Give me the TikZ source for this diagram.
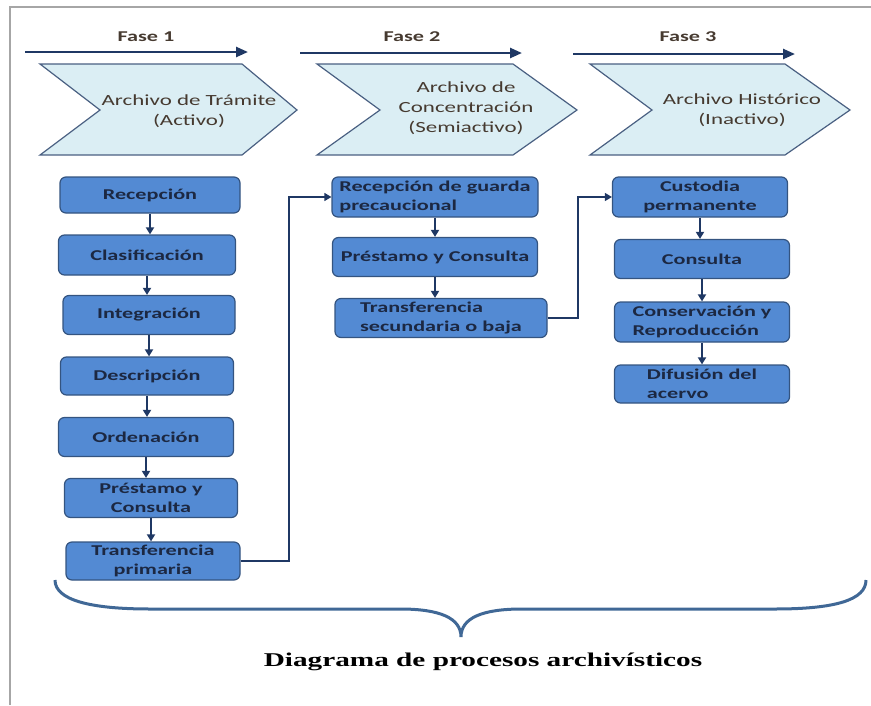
\documentclass[tikz,border=0pt]{standalone}
\usepackage{fontspec}
\setmainfont{Carlito}[FakeStretch=1.48]
\newfontfamily\capfont{Liberation Serif}[FakeStretch=1.5]
\usetikzlibrary{arrows.meta}
\definecolor{boxblue}{RGB}{83,138,211}
\definecolor{boxline}{RGB}{52,84,128}
\definecolor{chevfill}{RGB}{219,238,244}
\definecolor{chevline}{RGB}{74,96,130}
\definecolor{navy}{RGB}{31,56,100}
\definecolor{textnavy}{RGB}{28,40,66}
\definecolor{bracecol}{RGB}{64,104,150}
\definecolor{phasetext}{RGB}{70,58,48}
\begin{document}
\begin{tikzpicture}[x=1pt, y=-1pt, >={Triangle[length=7pt,width=8pt]},
    proc/.style={draw=boxline, line width=1.2pt, fill=boxblue, rounded corners=6pt, inner sep=2pt,
                 text=textnavy, font=\fontsize{15}{19}\selectfont\bfseries},
    chev/.style={draw=chevline, line width=1.2pt, fill=chevfill},
    chevtext/.style={align=center, text=phasetext, font=\fontsize{15.5}{20}\selectfont},
    flow/.style={->, draw=navy, line width=2pt},
    link/.style={->, draw=navy, line width=1.3pt},
    fase/.style={-{Triangle[length=12pt,width=10pt]}, draw=navy, line width=2.5pt}]
    \useasboundingbox (0,0) rectangle (871,705);
    \draw[gray!70, line width=2pt] (10,705) -- (10,7) -- (871,7);

    % fases
    \node[text=phasetext, font=\fontsize{15}{18}\selectfont\bfseries] (fase1) at (146,37) {Fase 1};
    \node[text=phasetext, font=\fontsize{15}{18}\selectfont\bfseries] (fase2) at (412,37) {Fase 2};
    \node[text=phasetext, font=\fontsize{15}{18}\selectfont\bfseries] (fase3) at (688,37) {Fase 3};
    \coordinate (f1a) at (25,52);  \coordinate (f1b) at (248,52);
    \coordinate (f2a) at (300,53); \coordinate (f2b) at (522,53);
    \coordinate (f3a) at (573,54); \coordinate (f3b) at (795,54);
    \draw[fase] (f1a) -- (f1b);
    \draw[fase] (f2a) -- (f2b);
    \draw[fase] (f3a) -- (f3b);

    \draw[chev] (40,64) -- (242,64) -- (297,110) -- (242,155) -- (40,155) -- (100,110) -- cycle;
    \draw[chev] (317,64) -- (513,64) -- (577,110) -- (513,155) -- (317,155) -- (380,110) -- cycle;
    \draw[chev] (590,64) -- (785,64) -- (850,110) -- (785,155) -- (590,155) -- (652,110) -- cycle;
    \node[chevtext] (tram) at (189,111) {Archivo de Trámite\\(Activo)};
    \node[chevtext] (conc) at (466,108) {Archivo de\\Concentración\\(Semiactivo)};
    \node[chevtext] (hist) at (742,110) {Archivo Histórico\\(Inactivo)};

    % fase 1
    \node[proc, minimum width=180, minimum height=36] (rec) at (150,195) {Recepción};
    \node[proc, minimum width=177, minimum height=40] (cla) at (147,255) {Clasificación};
    \node[proc, minimum width=172, minimum height=39] (int) at (149,315) {Integración};
    \node[proc, minimum width=173, minimum height=38] (des) at (147,376) {Descripción};
    \node[proc, minimum width=175, minimum height=39] (ord) at (146,437) {Ordenación};
    \node[proc, minimum width=173, minimum height=39, align=center] (pre) at (151,498) {Préstamo y\\Consulta};
    \node[proc, minimum width=174, minimum height=38, align=center] (trp) at (153,561) {Transferencia\\primaria};

    % fase 2
    \node[proc, minimum width=206, minimum height=40, align=left] (rgp) at (435,197) {Recepción de guarda\\precaucional};
    \node[proc, minimum width=205, minimum height=39] (pc2) at (435,257) {Préstamo y Consulta};
    \node[proc, minimum width=212, minimum height=39, align=left] (tsb) at (441,318) {Transferencia\\secundaria o baja};

    % fase 3
    \node[proc, minimum width=175, minimum height=40, align=center] (cus) at (700,197) {Custodia\\permanente};
    \node[proc, minimum width=175, minimum height=39] (con) at (702,259) {Consulta};
    \node[proc, minimum width=175, minimum height=40, align=left] (cyr) at (702,322) {Conservación y\\Reproducción};
    \node[proc, minimum width=175, minimum height=38, align=left] (dif) at (702,384) {Difusión del\\acervo};

    \foreach \a/\b in {rec/cla, cla/int, int/des, des/ord, ord/pre, pre/trp, rgp/pc2, pc2/tsb, cus/con, con/cyr, cyr/dif}
        \draw[flow] (\a.south) -- (\a.south |- \b.north);

    \coordinate (j1) at (289,0);
    \coordinate (j2) at (578,0);
    \draw[link] (trp.east) -- (trp.east -| j1) |- (rgp.west);
    \draw[link] (tsb.east) -- (tsb.east -| j2) |- (cus.west);

    \draw[bracecol, line width=3pt] (55,580) .. controls (55,600) and (90,609) .. (150,609) -- (400,609)
        .. controls (440,609) and (461,618) .. (461,637) .. controls (461,618) and (482,609) .. (522,609)
        -- (775,609) .. controls (835,609) and (866,600) .. (866,580);
    \node (cap) at (483,662) {\capfont\bfseries\fontsize{19.5}{24}\selectfont Diagrama de procesos archivísticos};
\end{tikzpicture}
\end{document}
